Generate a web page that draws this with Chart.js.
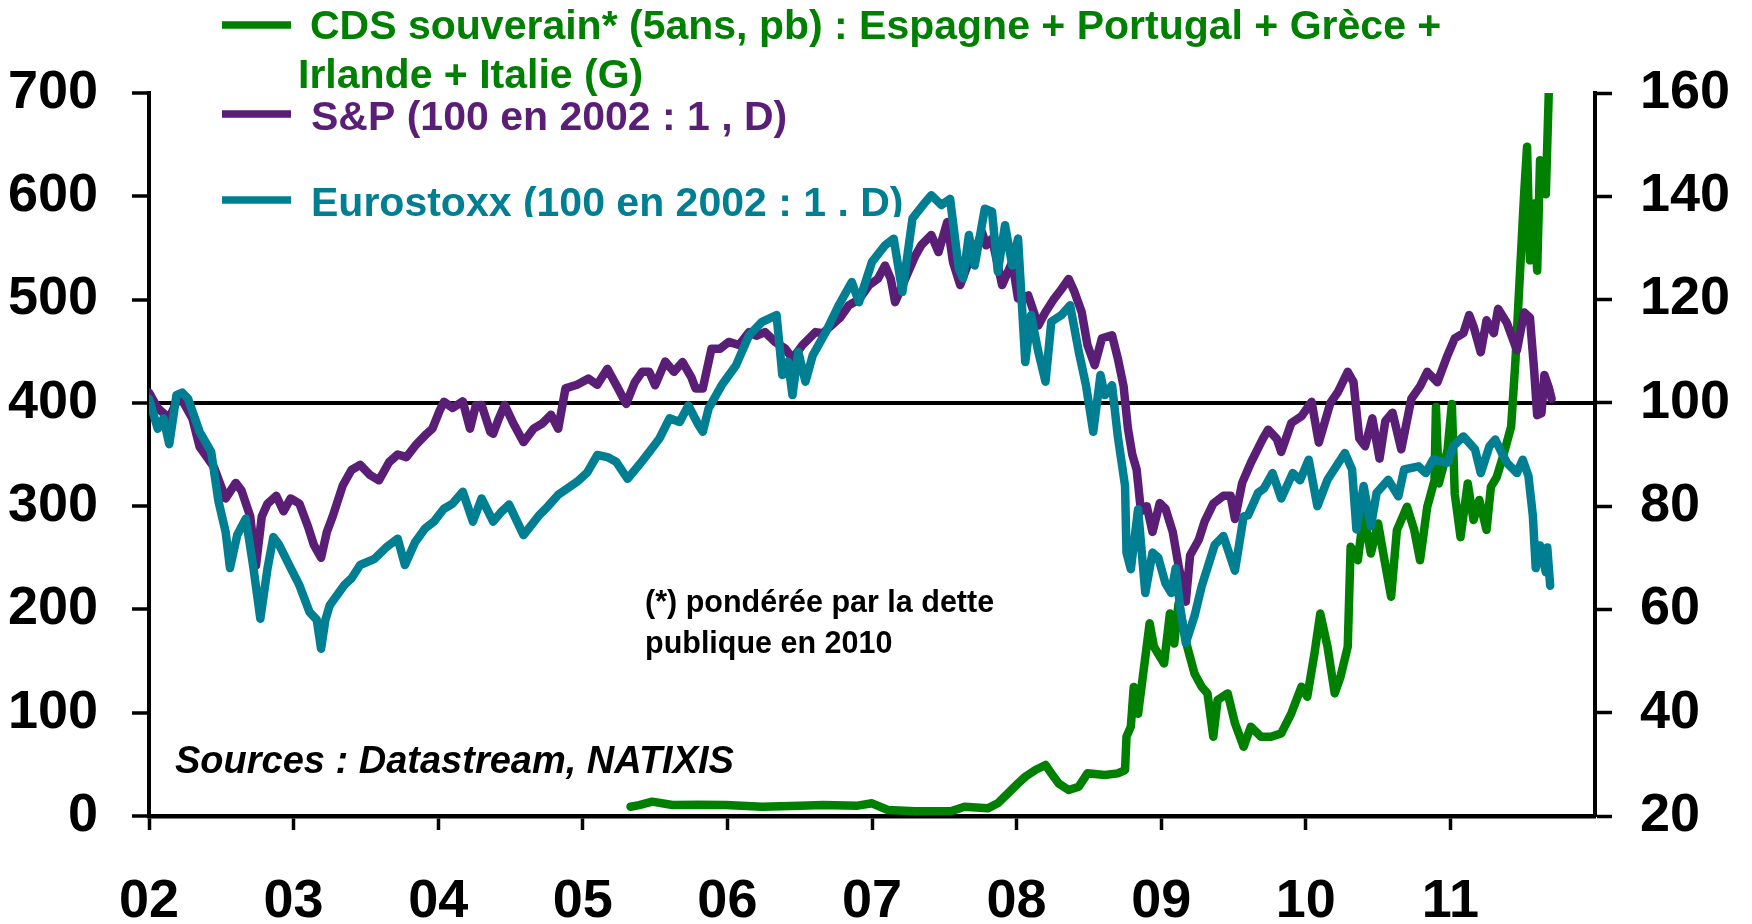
<!DOCTYPE html>
<html><head><meta charset="utf-8">
<script src="https://cdn.jsdelivr.net/npm/chart.js@4.4.1/dist/chart.umd.min.js"></script>
<style>html,body{margin:0;padding:0;background:#fff;}#wrap{width:1752px;height:924px;position:relative;}</style>
</head><body><div id="wrap"><canvas id="c"></canvas></div>
<script>
const FONT = "'Liberation Sans', Arial, Helvetica, sans-serif";
const C_GREEN = '#008000', C_PURPLE = '#5A1E76', C_TEAL = '#007F92';

// x tick labels (years 2002..2011)
const xTickYears = [2002,2003,2004,2005,2006,2007,2008,2009,2010,2011];
const xTickLabels = ['02','03','04','05','06','07','08','09','10','11'];
const refLevel = 400; // = 100 on right axis

// S&P (100 en 2002, right axis)
const spYears = [2002.00,2002.06,2002.14,2002.21,2002.30,2002.35,2002.45,2002.53,2002.60,2002.64,2002.70,2002.74,2002.78,2002.82,2002.88,2002.93,2002.98,2003.04,2003.10,2003.14,2003.19,2003.23,2003.27,2003.34,2003.40,2003.46,2003.53,2003.59,2003.66,2003.72,2003.78,2003.85,2003.92,2003.96,2004.01,2004.04,2004.10,2004.17,2004.22,2004.26,2004.30,2004.36,2004.38,2004.42,2004.46,2004.52,2004.59,2004.66,2004.72,2004.78,2004.83,2004.88,2004.96,2005.04,2005.10,2005.17,2005.24,2005.30,2005.36,2005.41,2005.46,2005.50,2005.57,2005.63,2005.69,2005.75,2005.78,2005.83,2005.89,2005.95,2006.01,2006.08,2006.15,2006.20,2006.26,2006.33,2006.40,2006.45,2006.52,2006.61,2006.66,2006.72,2006.78,2006.84,2006.91,2006.98,2007.04,2007.09,2007.13,2007.16,2007.23,2007.30,2007.34,2007.41,2007.46,2007.52,2007.56,2007.61,2007.67,2007.72,2007.76,2007.79,2007.83,2007.90,2007.97,2008.01,2008.08,2008.15,2008.20,2008.26,2008.31,2008.36,2008.40,2008.45,2008.49,2008.54,2008.59,2008.66,2008.70,2008.74,2008.77,2008.80,2008.83,2008.86,2008.90,2008.94,2008.99,2009.03,2009.08,2009.12,2009.17,2009.20,2009.26,2009.30,2009.36,2009.43,2009.48,2009.51,2009.56,2009.62,2009.70,2009.74,2009.80,2009.83,2009.90,2009.97,2010.04,2010.09,2010.17,2010.22,2010.29,2010.33,2010.37,2010.41,2010.46,2010.51,2010.55,2010.60,2010.66,2010.73,2010.79,2010.84,2010.91,2010.98,2011.03,2011.09,2011.13,2011.16,2011.21,2011.25,2011.30,2011.33,2011.39,2011.46,2011.51,2011.55,2011.58,2011.60,2011.63,2011.65,2011.68,2011.70];
const spValues = [102,99,97,101.5,97,91.5,87.5,81.5,84.5,83,78,68.5,78,80.5,82,79,81.5,80.5,76,72.5,70,75,78,84,87,88,86,85,88.5,90,89.5,92,94,95,98.5,100.2,99,100.3,95,99.5,99.6,94.4,94,97,99.6,96,92.4,95,96,97.7,95,102.8,103.5,104.7,103.5,106.6,103,99.8,104,106,106,103.4,108,106,107.9,105,102.8,102.8,110.5,110.5,111.8,111.2,113.7,113,113.7,111.8,110.5,108.6,111.2,113.7,113.5,115,116.5,118.9,120,122.8,124,126.6,124,119.5,124,128.5,130.5,132.5,129.2,135,127.3,122.8,127.3,130,133.1,130.5,131.8,122.8,127.3,120.2,120.8,115,117.6,120.2,122,124,121.5,117.6,111.2,107.3,112.5,113.1,108.6,103.2,95,90,87.1,79,80,75,80.6,79.5,75,68.5,61.5,70.5,73.5,77,80.5,82,82,77.5,84.5,88.4,92.9,94.8,93,90.5,96.1,97.4,100.2,92.3,100,102,106,104,93.1,91.6,97,89.2,96.5,98.1,91,100.8,103.2,106,104,109.2,112.5,113.5,117,114.8,109.8,116,113.5,118.2,115.5,110.2,117.5,116.5,106,97.6,98,105.4,103,100.8];

// Eurostoxx (100 en 2002, right axis)
const esYears = [2002.00,2002.06,2002.10,2002.14,2002.19,2002.23,2002.27,2002.35,2002.43,2002.48,2002.53,2002.56,2002.61,2002.67,2002.72,2002.77,2002.82,2002.86,2002.90,2002.98,2003.04,2003.11,2003.16,2003.19,2003.22,2003.25,2003.35,2003.40,2003.46,2003.56,2003.64,2003.72,2003.77,2003.84,2003.91,2003.97,2004.04,2004.10,2004.17,2004.24,2004.30,2004.38,2004.44,2004.49,2004.59,2004.70,2004.76,2004.83,2004.96,2005.03,2005.10,2005.17,2005.23,2005.31,2005.39,2005.46,2005.53,2005.60,2005.67,2005.73,2005.80,2005.83,2005.87,2005.96,2006.06,2006.15,2006.24,2006.34,2006.38,2006.42,2006.45,2006.49,2006.54,2006.59,2006.68,2006.77,2006.86,2006.91,2007.00,2007.09,2007.15,2007.21,2007.28,2007.37,2007.41,2007.48,2007.54,2007.60,2007.63,2007.67,2007.71,2007.78,2007.83,2007.87,2007.92,2007.97,2008.01,2008.06,2008.10,2008.15,2008.20,2008.24,2008.31,2008.37,2008.43,2008.48,2008.53,2008.58,2008.61,2008.66,2008.70,2008.75,2008.76,2008.79,2008.84,2008.89,2008.94,2008.98,2009.03,2009.07,2009.10,2009.13,2009.17,2009.23,2009.28,2009.37,2009.43,2009.51,2009.57,2009.60,2009.67,2009.71,2009.77,2009.83,2009.91,2009.96,2010.02,2010.08,2010.15,2010.27,2010.32,2010.35,2010.40,2010.45,2010.49,2010.57,2010.64,2010.68,2010.78,2010.83,2010.88,2010.98,2011.02,2011.09,2011.17,2011.21,2011.27,2011.31,2011.39,2011.46,2011.50,2011.54,2011.57,2011.59,2011.62,2011.66,2011.67,2011.69];
const esValues = [100.8,95,97,92,101.5,102,100.8,94.4,90.5,81,75,68,74.4,77.6,68.5,58.2,68,74,72.5,68,64.7,59.5,58,52.4,58,60.8,64.7,66,68.6,69.8,72,73.7,68.6,73,75.7,77,79.5,80.5,82.8,77,81.5,77,79,80.3,74.4,78.3,80,82.2,84.7,86.5,89.9,89.5,88.6,85.3,88,90.5,93.1,97,96.3,99.5,95.7,94.4,98.9,103.4,107.3,113.1,115.7,117,105.4,108,101.5,109.9,104.1,109.2,113.7,118.9,123.4,119.5,127.3,130.5,131.8,121.5,135.7,138.9,140.2,138.3,139.5,126,124.1,132.5,126.6,137.6,137,125.4,134.4,126.6,131.8,107.9,117,109.9,104.1,115.7,117,118.9,109.9,103.4,94.4,105.4,101.5,103.4,93.5,83.9,71,67.8,79.4,63.2,71,70,65,63.2,68,60.6,53.5,58.7,64.5,72.5,74.2,67.5,78,78.2,82.6,83.4,86.4,81.5,86.4,85,89,80,85.1,90.3,87.1,75.5,83.9,76.1,82.6,85.1,81.9,87.1,87.7,86.4,89,88.4,91.6,93.5,91,86.4,91.6,92.9,88.4,86.4,89,85.8,78.2,68,72.4,67.2,72,64.6];

// CDS souverain (pb, left axis)
const cdsYears = [2005.33,2005.39,2005.48,2005.62,2005.80,2005.99,2006.24,2006.50,2006.66,2006.90,2007.00,2007.11,2007.30,2007.55,2007.64,2007.80,2007.87,2007.94,2008.01,2008.06,2008.13,2008.20,2008.24,2008.29,2008.36,2008.43,2008.49,2008.61,2008.70,2008.75,2008.76,2008.79,2008.81,2008.84,2008.87,2008.92,2008.95,2009.02,2009.06,2009.09,2009.12,2009.18,2009.23,2009.28,2009.32,2009.36,2009.39,2009.46,2009.51,2009.57,2009.62,2009.69,2009.76,2009.83,2009.90,2009.97,2010.01,2010.06,2010.10,2010.15,2010.20,2010.24,2010.29,2010.31,2010.36,2010.40,2010.45,2010.50,2010.54,2010.59,2010.63,2010.70,2010.75,2010.79,2010.84,2010.89,2010.90,2010.92,2010.98,2011.01,2011.03,2011.07,2011.12,2011.16,2011.20,2011.25,2011.28,2011.32,2011.37,2011.42,2011.45,2011.47,2011.51,2011.53,2011.55,2011.58,2011.60,2011.62,2011.66,2011.68];
const cdsValues = [9,10.6,13.9,10.6,11,10.6,9,10,10.6,10,12.3,5.8,4.5,4.8,9,7.4,12.3,21.9,31.6,38,44.5,49.4,41.3,31.6,25.2,28.4,41.3,39.7,41.3,44.5,76.8,86.5,125,99,131.6,186.5,163.9,147.7,196,167,205.8,163.9,138,125.2,118.7,76.8,112.3,118.7,89.7,67.1,86.5,76.8,76.8,80,99.4,125.2,115.5,157.4,196,163.9,118.7,134.8,163.9,260.6,247.7,292.9,254.2,283.2,251,212.3,276.8,299.4,276.8,247.7,299.4,325,396,322,354,399,312,270,322,286.5,306,277,318.7,328,351,377,441,496,602.6,648,538,593,528,635,602,699];

const legendCDS = ['CDS souverain* (5ans, pb) : Espagne + Portugal + Grèce +', 'Irlande + Italie (G)'];
const legendSP = 'S&P (100 en 2002 : 1 , D)';
const legendES = 'Eurostoxx (100 en 2002 : 1 . D)';
const noteLines = ['(*) pondérée par la dette', 'publique en 2010'];
const sourceText = 'Sources : Datastream, NATIXIS';

const toPts = (xs, ys) => xs.map((x, i) => ({x: x, y: ys[i]}));

const overlay = {
  id: 'overlay',
  afterDraw(chart) {
    const ctx = chart.ctx;
    ctx.save();
    ctx.textBaseline = 'alphabetic';
    ctx.textAlign = 'left';
    ctx.lineCap = 'butt';
    const sample = (color, y) => {
      ctx.strokeStyle = color; ctx.lineWidth = 7.5;
      ctx.beginPath(); ctx.moveTo(222, y); ctx.lineTo(291, y); ctx.stroke();
    };
    ctx.font = 'bold 41px ' + FONT;
    sample(C_GREEN, 25);
    ctx.fillStyle = C_GREEN;
    ctx.fillText(legendCDS[0], 310, 39);
    ctx.fillText(legendCDS[1], 298, 88);
    sample(C_PURPLE, 114);
    ctx.fillStyle = C_PURPLE;
    ctx.fillText(legendSP, 311, 130);
    sample(C_TEAL, 200);
    ctx.save();
    ctx.beginPath(); ctx.rect(0, 0, 1752, 217); ctx.clip();
    ctx.fillStyle = C_TEAL;
    ctx.fillText(legendES, 311, 215.5);
    ctx.restore();
    ctx.fillStyle = '#000';
    ctx.font = 'bold 30.5px ' + FONT;
    ctx.fillText(noteLines[0], 645, 612);
    ctx.fillText(noteLines[1], 645, 653);
    ctx.font = 'italic bold 38px ' + FONT;
    ctx.fillText(sourceText, 175, 773);
    ctx.restore();
  }
};

const tickFont = {family: FONT, size: 54, weight: 'bold'};
const LW = 8.5;

new Chart(document.getElementById('c'), {
  type: 'line',
  data: {
    datasets: [
      {label: legendES, data: toPts(esYears, esValues), yAxisID: 'y2', borderColor: C_TEAL, borderWidth: LW, pointRadius: 0, tension: 0, order: 0, borderJoinStyle: 'round', borderCapStyle: 'round'},
      {label: legendSP, data: toPts(spYears, spValues), yAxisID: 'y2', borderColor: C_PURPLE, borderWidth: LW, pointRadius: 0, tension: 0, order: 1, borderJoinStyle: 'round', borderCapStyle: 'round'},
      {label: legendCDS.join(' '), data: toPts(cdsYears, cdsValues), yAxisID: 'y', borderColor: C_GREEN, borderWidth: LW, pointRadius: 0, tension: 0, order: 2, borderJoinStyle: 'round', borderCapStyle: 'round'}
    ]
  },
  options: {
    responsive: true,
    maintainAspectRatio: false,
    devicePixelRatio: 1,
    animation: false,
    layout: {padding: {top: 93, left: 0, right: 0, bottom: 0}},
    plugins: {legend: {display: false}, tooltip: {enabled: false}},
    scales: {
      x: {
        type: 'linear', min: 2002, max: 2012,
        afterBuildTicks: s => { s.ticks = xTickYears.map(v => ({value: v})); },
        afterFit: s => { s.height = 108; },
        ticks: {
          callback: v => { const i = xTickYears.indexOf(v); return i >= 0 ? xTickLabels[i] : ''; },
          font: tickFont, color: '#000', padding: 40, maxRotation: 0, autoSkip: false
        },
        grid: {drawOnChartArea: false, drawTicks: true, tickLength: 14, tickWidth: 3.5, tickColor: '#000'},
        border: {display: true, color: '#000', width: 4.5}
      },
      y: {
        position: 'left', min: 0, max: 700,
        afterFit: s => { s.width = 149; },
        ticks: {stepSize: 100, font: tickFont, color: '#000', padding: 34},
        grid: {
          drawOnChartArea: true, drawTicks: true, tickLength: 17, tickWidth: 3.5, tickColor: '#000',
          color: c => (c.tick && c.tick.value === refLevel) ? '#000' : 'rgba(0,0,0,0)',
          lineWidth: c => (c.tick && c.tick.value === refLevel) ? 4 : 0
        },
        border: {display: true, color: '#000', width: 4}
      },
      y2: {
        position: 'right', min: 20, max: 160,
        afterFit: s => { s.width = 157; },
        ticks: {stepSize: 20, font: tickFont, color: '#000', padding: 28},
        grid: {drawOnChartArea: false, drawTicks: true, tickLength: 17, tickWidth: 3.5, tickColor: '#000'},
        border: {display: true, color: '#000', width: 4}
      }
    }
  },
  plugins: [overlay]
});
</script></body></html>
